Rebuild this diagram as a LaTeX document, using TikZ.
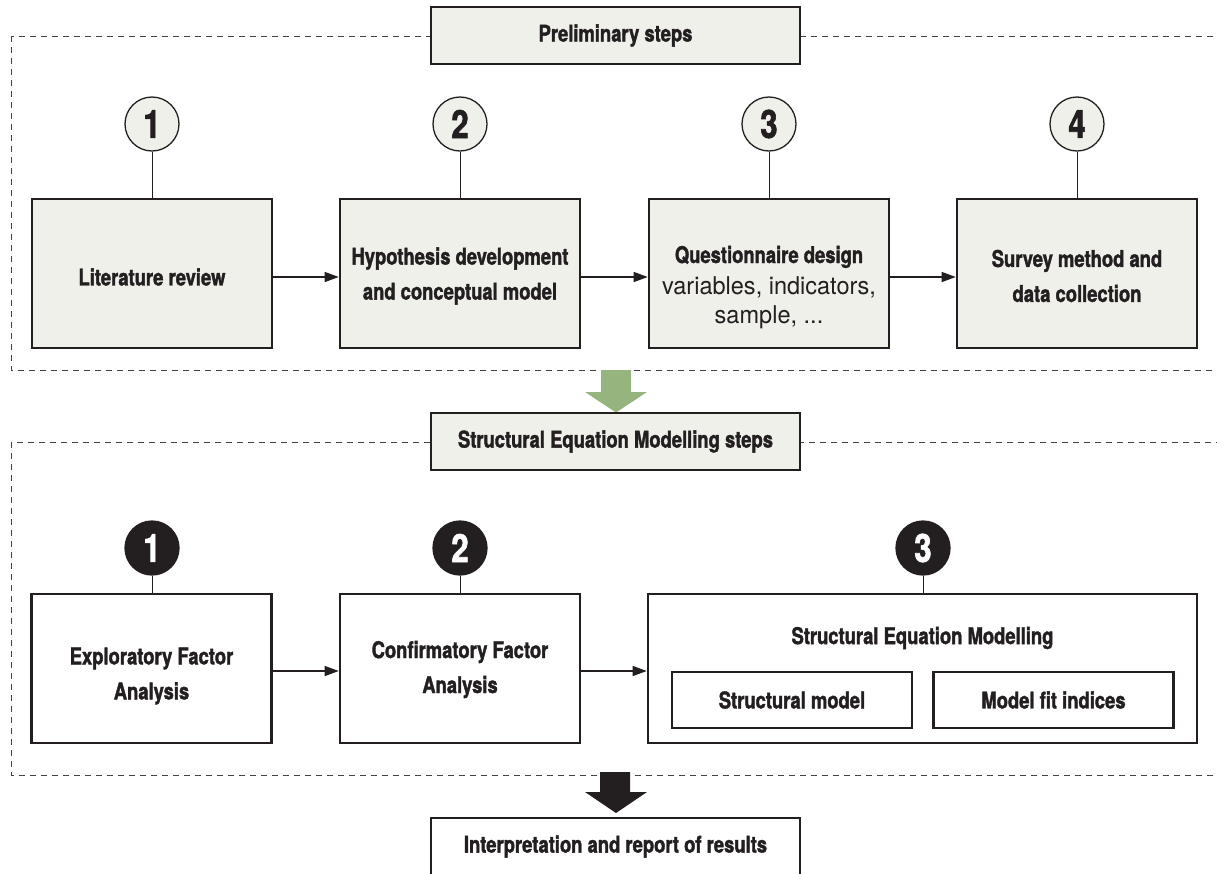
\documentclass[tikz,border=0pt]{standalone}
\usepackage{fontspec}
\setmainfont{TeX Gyre Heros}[FakeStretch=0.8, BoldFeatures={FakeBold=1.6}]
\newfontfamily\plainfont{TeX Gyre Heros}[FakeStretch=0.96]
\usetikzlibrary{arrows.meta}
\definecolor{ink}{HTML}{231F20}
\definecolor{paper}{HTML}{F0F0EA}
\definecolor{leaf}{HTML}{96B47D}

\begin{document}
\begin{tikzpicture}[x=1pt,y=-1pt,
  txt/.style={font=\fontsize{23}{35}\selectfont\bfseries, text=ink, align=center, inner sep=0pt},
  stepbox/.style={draw=ink, line width=2.6pt, minimum width=240pt, minimum height=149pt, inner sep=0pt},
  subbox/.style={draw=ink, line width=2.4pt, minimum width=240pt, minimum height=56pt, inner sep=0pt, fill=white, txt},
  tagbox/.style={draw=ink, line width=2.6pt, minimum width=369pt, minimum height=57pt, inner sep=0pt, txt},
  numcirc/.style={circle, draw=ink, line width=1.3pt, fill=paper, minimum size=54pt, inner sep=0pt,
    font=\fontsize{39}{39}\selectfont\bfseries, text=ink},
  darkcirc/.style={numcirc, fill=ink, text=white},
  frame/.style={draw=ink!85, line width=1pt, dash pattern=on 6pt off 5pt},
  link/.style={draw=ink, line width=1pt},
  flow/.style={draw=ink, line width=1.2pt, -{Triangle[length=14pt,width=10pt]}},
]
\useasboundingbox (0,0) rectangle (1217,873);

% dashed group frames (right side runs off the page)
\draw[frame] (11,36) rectangle (1235,370);
\draw[frame] (11,442) rectangle (1235,775);

% ---------- preliminary steps ----------
\node[tagbox, fill=paper] (prelim) at (615.5,35.5) {Preliminary steps};

\node[stepbox, fill=paper] (b1) at (152,273.5) {};
\node[stepbox, fill=paper] (b2) at (460,273.5) {};
\node[stepbox, fill=paper] (b3) at (769,273.5) {};
\node[stepbox, fill=paper] (b4) at (1077,273.5) {};

\node[txt] (b1t) at (152,277) {Literature review};
\node[txt] (b2t) at (460,276) {Hypothesis development\\and conceptual model};
\node[txt, inner sep=0pt] (b3t) at (769,286) {\begin{tabular}{@{}c@{}}
  Questionnaire design\\[-4pt]
  {\plainfont\mdseries\fontsize{24.5}{30}\selectfont variables, indicators,}\\[-6pt]
  {\plainfont\mdseries\fontsize{24.5}{30}\selectfont sample, ...}
\end{tabular}};
\node[txt] (b4t) at (1077,276) {Survey method and\\data collection};

\node[numcirc] (c1) at (152,124) {1};
\node[numcirc] (c2) at (460,124) {2};
\node[numcirc] (c3) at (769,124) {3};
\node[numcirc] (c4) at (1077,124) {4};

\foreach \i in {1,...,4} \draw[link] (c\i) -- (b\i);

\draw[flow] ([yshift=-3.5pt]b1.east) -- ([yshift=-3.5pt]b2.west);
\draw[flow] ([yshift=-3.5pt]b2.east) -- ([yshift=-3.5pt]b3.west);
\draw[flow] ([yshift=-3.5pt]b3.east) -- ([yshift=-3.5pt]b4.west);

% green transition arrow
\fill[leaf] (601,370) -- (631,370) -- (631,392) -- (647,392) -- (616,412.5)
  -- (585,392) -- (601,392) -- cycle;

% ---------- SEM steps ----------
\node[tagbox, fill=paper] (semtag) at (615.5,441.5) {Structural Equation Modelling steps};

\node[stepbox, fill=white] (l1) at (151.5,668.5) {};
\node[stepbox, fill=white] (l2) at (460,668.5) {};
\node[stepbox, fill=white, minimum width=549pt] (l3) at (922.5,668.5) {};

\node[txt] (l1t) at (151.5,676) {Exploratory Factor\\Analysis};
\node[txt] (l2t) at (460,669.5) {Confirmatory Factor\\Analysis};
\node[txt] (l3t) at (922.5,638) {Structural Equation Modelling};

\node[subbox] (s1) at (792,700) {Structural model};
\node[subbox] (s2) at (1053.5,700) {Model fit indices};

\node[darkcirc] (d1) at (152,548) {1};
\node[darkcirc] (d2) at (460,548) {2};
\node[darkcirc] (d3) at (923,548) {3};

\draw[link] (d1) -- (d1 |- l1.north);
\draw[link] (d2) -- (d2 |- l2.north);
\draw[link] (d3) -- (d3 |- l3.north);

\draw[flow] ([yshift=-2.5pt]l1.east) -- ([yshift=-2.5pt]l2.west);
\draw[flow] ([yshift=-2.5pt]l2.east) -- ([yshift=-2.5pt]l3.west);

% black arrow to the results
\fill[ink] (600,772) -- (630,772) -- (630,792) -- (647,792) -- (616,813)
  -- (585,792) -- (600,792) -- cycle;

\node[tagbox, fill=white] (result) at (615.5,846.5) {Interpretation and report of results};
\end{tikzpicture}
\end{document}
